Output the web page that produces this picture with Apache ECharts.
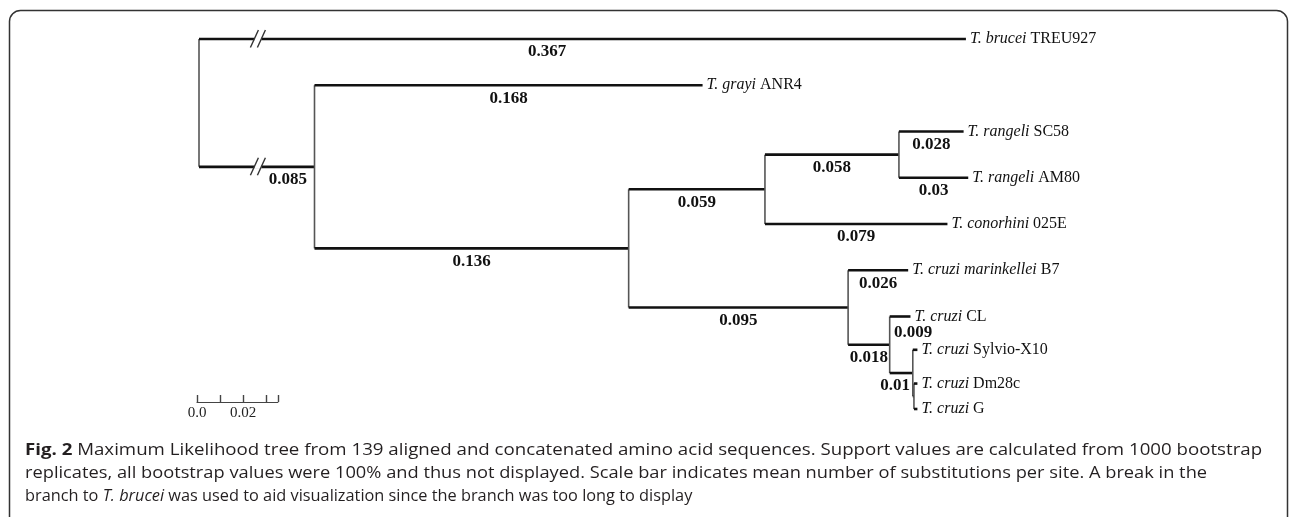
<!DOCTYPE html>
<html><head><meta charset="utf-8">
<script src="https://cdn.jsdelivr.net/npm/echarts@6/dist/echarts.min.js"></script>
<style>html,body{margin:0;padding:0;background:#fff}#c{width:1290px;height:517px}</style>
</head><body><div id="c"></div>
<script>
// ---------- DATA ----------
const nodeNames    = ['root','brucei','A','grayi','B','C','D','SC58','AM80','conorhini','E','marinkellei','F','CL','G1','Sylvio','G2','Dm28c','G'];
const parentNames  = [null,'root','root','A','A','B','C','D','D','C','B','E','E','F','F','G1','G1','G2','G2'];
const branchLengths= [0,0.367,0.085,0.168,0.136,0.059,0.058,0.028,0.03,0.079,0.095,0.026,0.018,0.009,0.01,0.002,0.0005,0.0015,0.0015];
const brokenBranches = ['brucei','A'];
const leafNames   = ['brucei','grayi','SC58','AM80','conorhini','marinkellei','CL','Sylvio','Dm28c','G'];
const leafSpecies = ['T. brucei','T. grayi','T. rangeli','T. rangeli','T. conorhini','T. cruzi marinkellei','T. cruzi','T. cruzi','T. cruzi','T. cruzi'];
const leafStrains = ['TREU927','ANR4','SC58','AM80','025E','B7','CL','Sylvio-X10','Dm28c','G'];
const scaleTickLabels = {0:'0.0', 0.02:'0.02'};
const captionLines = [
  '{b|Fig. 2} Maximum Likelihood tree from 139 aligned and concatenated amino acid sequences. Support values are calculated from 1000 bootstrap',
  'replicates, all bootstrap values were 100% and thus not displayed. Scale bar indicates mean number of substitutions per site. A break in the',
  'branch to {i|T. brucei} was used to aid visualization since the branch was too long to display'
];

// ---------- LAYOUT ----------
const BREAK_GAP = 0.035;          // length removed from broken branches for display
const BREAK_AT = 0.0255;          // position of the // marks along the broken branches
const rowOf = {brucei:0, grayi:1, SC58:2, AM80:3, conorhini:4, marinkellei:5, CL:6, Sylvio:6.72, Dm28c:7.45, G:8};
const labelAdjust = {brucei:{t:0.454}, A:{t:0.77}, CL:{dx:13, dy:3}, G1:{dx:-6}};
const captionScaleX = [1.167, 1.141, 1.02];
const SERIF = '"Liberation Serif","Times New Roman",serif';

// ---------- TREE COMPUTATION ----------
const idx = {}; nodeNames.forEach((n,i)=>idx[n]=i);
const children = {}; nodeNames.forEach(n=>children[n]=[]);
parentNames.forEach((p,i)=>{ if(p) children[p].push(nodeNames[i]); });
const X = {}, Y = {};
function setX(n, x){ X[n]=x; children[n].forEach(c=>{ const L=branchLengths[idx[c]]; setX(c, x + (brokenBranches.includes(c)? L-BREAK_GAP : L)); }); }
setX('root', 0);
function setY(n){ const ch=children[n]; if(!ch.length){ Y[n]=rowOf[n]; return Y[n]; } ch.forEach(setY); Y[n]=(Y[ch[0]]+Y[ch[ch.length-1]])/2; return Y[n]; }
setY('root');

const segs = [];
nodeNames.forEach((n,i)=>{
  const p = parentNames[i];
  if(p) segs.push([X[p], Y[n], X[n], Y[n], 0]);
  const ch = children[n];
  if(ch.length) segs.push([X[n], Y[ch[0]], X[n], Y[ch[ch.length-1]], 1]);
});
const lenLabels = [];
nodeNames.forEach((n,i)=>{
  const p = parentNames[i]; if(!p) return;
  const L = branchLengths[i]; if(L < 0.005) return;
  const a = labelAdjust[n] || {};
  const t = a.t != null ? a.t : 0.5;
  lenLabels.push({x: X[p] + (X[n]-X[p])*t, y: Y[n], text: String(L), dx: a.dx||0, dy: a.dy||0});
});
const leafData = leafNames.map((n,i)=>({x:X[n], y:Y[n], sp:leafSpecies[i], st:leafStrains[i]}));
const breakData = brokenBranches.map(n=>[BREAK_AT, Y[n]]);

const captionRich = {b:{fontWeight:'bold', fontFamily:'Open Sans', fontSize:16, fill:'#231f20'},
                     i:{fontStyle:'italic', fontFamily:'Open Sans', fontSize:16, fill:'#231f20'}};
const captionGraphics = captionLines.map((t,i)=>({
  type:'text', x:25, y:450 + i*23, scaleX:captionScaleX[i], originX:0, originY:0,
  style:{text:t, font:'16px "Open Sans"', fill:'#231f20', verticalAlign:'middle', rich:captionRich}
}));

const chart = echarts.init(document.getElementById('c'));
chart.setOption({
  animation:false,
  grid:[{left:199, top:39, width:1039.5, height:370},
        {left:197, top:401, width:80.85, height:1}],
  xAxis:[{type:'value', min:0, max:0.45, show:false, gridIndex:0},
         {type:'value', min:0, max:0.035, interval:0.01, gridIndex:1, position:'bottom',
          axisLine:{show:true, lineStyle:{color:'#444', width:1.2}},
          axisTick:{show:true, inside:true, length:7, lineStyle:{color:'#444', width:1.4}},
          minorTick:{show:false},
          splitLine:{show:false},
          axisLabel:{show:true, margin:4, color:'#222', fontFamily:SERIF, fontSize:15,
            formatter:v=>{ const k=Math.round(v*1000)/1000; return scaleTickLabels[k]!==undefined?scaleTickLabels[k]:''; }}}],
  yAxis:[{type:'value', min:0, max:8, inverse:true, show:false, gridIndex:0},
         {type:'value', min:0, max:1, show:false, gridIndex:1}],
  series:[
    {type:'custom', coordinateSystem:'cartesian2d', data:segs, encode:{x:[0,2], y:[1,3]},
     renderItem:(params, api)=>{
       const p1=api.coord([api.value(0),api.value(1)]), p2=api.coord([api.value(2),api.value(3)]);
       const h = api.value(4)===0;
       return {type:'line', shape:{x1:p1[0],y1:p1[1],x2:p2[0],y2:p2[1]},
         style:{stroke: h?'#111':'#555', lineWidth: h?2.6:1.6, lineCap:'butt'}};
     }},
    {type:'custom', coordinateSystem:'cartesian2d', data:breakData,
     renderItem:(params, api)=>{
       const c=api.coord([api.value(0),api.value(1)]);
       return {type:'group', children:[
         {type:'line', shape:{x1:c[0]-3.5,y1:c[1],x2:c[0]+3.5,y2:c[1]}, style:{stroke:'#fff', lineWidth:4}},
         {type:'line', shape:{x1:c[0]-7.5,y1:c[1]+8.5,x2:c[0]+0.5,y2:c[1]-9}, style:{stroke:'#333', lineWidth:1.4}},
         {type:'line', shape:{x1:c[0]-0.5,y1:c[1]+8.5,x2:c[0]+7.5,y2:c[1]-9}, style:{stroke:'#333', lineWidth:1.4}}
       ]};
     }},
    {type:'custom', coordinateSystem:'cartesian2d', data:lenLabels.map(d=>[d.x,d.y]),
     renderItem:(params, api)=>{
       const d=lenLabels[params.dataIndex];
       const c=api.coord([d.x,d.y]);
       return {type:'text', x:c[0]+d.dx, y:c[1]+13+d.dy,
         style:{text:d.text, fill:'#111', font:'bold 17px '+SERIF, align:'center', verticalAlign:'middle'}};
     }},
    {type:'custom', coordinateSystem:'cartesian2d', data:leafData.map(d=>[d.x,d.y]),
     renderItem:(params, api)=>{
       const d=leafData[params.dataIndex];
       const c=api.coord([d.x,d.y]);
       return {type:'text', x:c[0]+4, y:c[1],
         style:{text:'{i|'+d.sp+'} '+d.st, fill:'#111', font:'16px '+SERIF, align:'left', verticalAlign:'middle',
           rich:{i:{fontStyle:'italic', fontFamily:SERIF, fontSize:16, fill:'#111'}}}};
     }}
  ],
  graphic:[
    {type:'rect', shape:{x:9.5, y:10.5, width:1278, height:530, r:11}, style:{fill:'rgba(0,0,0,0)', stroke:'#333', lineWidth:1.5}, silent:true}
  ].concat(captionGraphics)
});
</script></body></html>
